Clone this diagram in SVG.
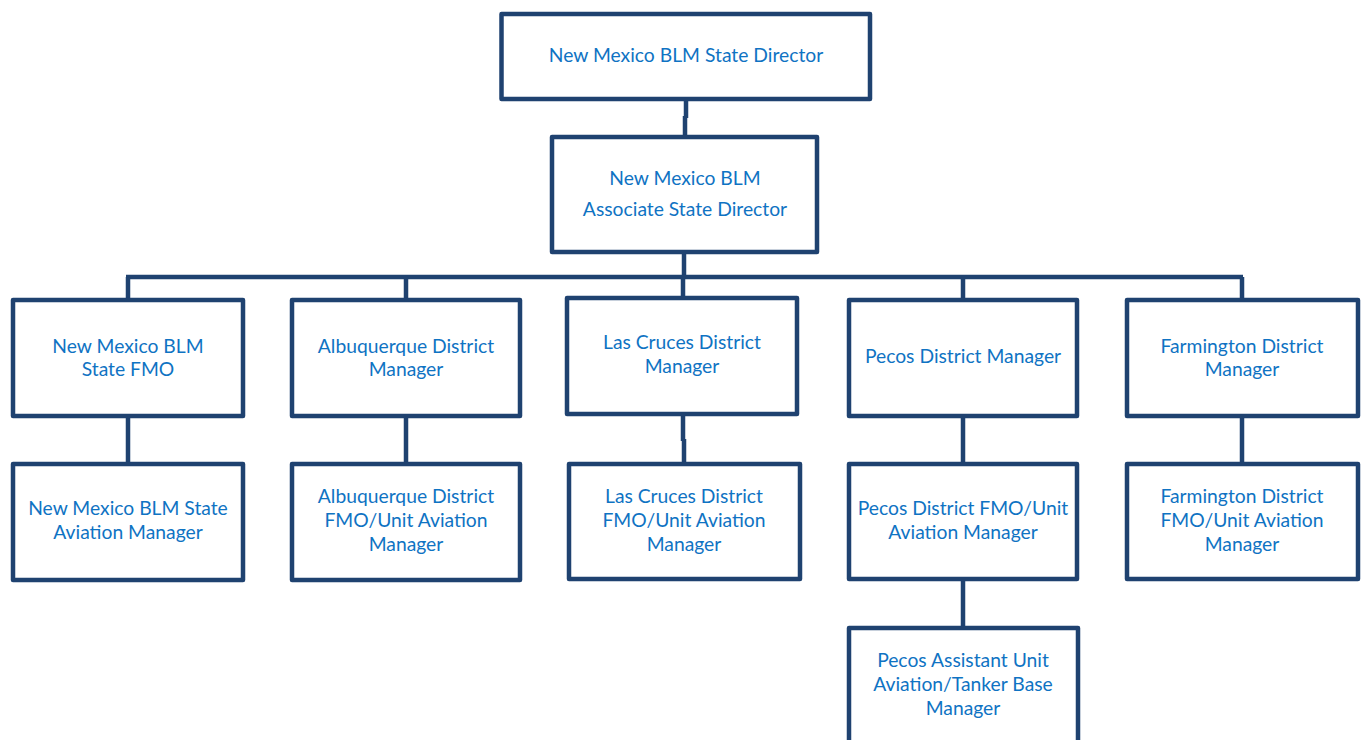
<svg xmlns="http://www.w3.org/2000/svg" width="1364" height="740" viewBox="0 0 1364 740">
<style>
.box{fill:#fff;stroke:#1F4270;stroke-width:4.5;stroke-linejoin:round}
.ln{fill:none;stroke:#1F4270;stroke-width:4.5}
text{font-family:Lato,"Open Sans","Liberation Sans",sans-serif;font-size:19.3px;fill:#0F73C3;text-anchor:middle}
</style>
<rect width="1364" height="740" fill="#fff"/>
<g id="connectors">
<path class="ln" d="M686 101 V118 M685 116 V137"/>
<path class="ln" d="M684 254 V277"/>
<path class="ln" d="M126 277 H1243"/>
<path class="ln" d="M128 277 V300 M406 277 V300 M683 277 V298 M963 277 V300 M1242 277 V300"/>
<path class="ln" d="M128 416 V464 M406 416 V464 M963 416 V464 M1242 416 V464 M963 580 V628"/>
<path class="ln" d="M683 416 V441 M684 439 V464"/>
</g>
<g id="n-state-director"><rect class="box" x="501.5" y="14" width="368.5" height="85"/><text x="686" y="62">New Mexico BLM State Director</text></g>
<g id="n-assoc"><rect class="box" x="552" y="137" width="265" height="115"/><text x="685" y="185">New Mexico BLM</text><text x="685" y="216">Associate State Director</text></g>
<g id="n-fmo"><rect class="box" x="13" y="300" width="230" height="116"/><text x="128" y="353">New Mexico BLM</text><text x="128" y="376">State FMO</text></g>
<g id="n-abq"><rect class="box" x="292" y="300" width="228" height="116"/><text x="406" y="353">Albuquerque District</text><text x="406" y="376">Manager</text></g>
<g id="n-lc"><rect class="box" x="567" y="298" width="230" height="116"/><text x="682" y="349">Las Cruces District</text><text x="682" y="373">Manager</text></g>
<g id="n-pecos"><rect class="box" x="849" y="300" width="228" height="116"/><text x="963" y="363">Pecos District Manager</text></g>
<g id="n-farm"><rect class="box" x="1127" y="300" width="231" height="116"/><text x="1242" y="353">Farmington District</text><text x="1242" y="376">Manager</text></g>
<g id="n-fmo-av"><rect class="box" x="13" y="464" width="230" height="116"/><text x="128" y="515">New Mexico BLM State</text><text x="128" y="539">Aviation Manager</text></g>
<g id="n-abq-av"><rect class="box" x="292" y="464" width="228" height="116"/><text x="406" y="503">Albuquerque District</text><text x="406" y="527">FMO/Unit Aviation</text><text x="406" y="551">Manager</text></g>
<g id="n-lc-av"><rect class="box" x="569" y="464" width="231" height="115"/><text x="684" y="503">Las Cruces District</text><text x="684" y="527">FMO/Unit Aviation</text><text x="684" y="551">Manager</text></g>
<g id="n-pecos-av"><rect class="box" x="849" y="464" width="228" height="115"/><text x="963" y="515">Pecos District FMO/Unit</text><text x="963" y="539">Aviation Manager</text></g>
<g id="n-farm-av"><rect class="box" x="1127" y="464" width="231" height="115"/><text x="1242" y="503">Farmington District</text><text x="1242" y="527">FMO/Unit Aviation</text><text x="1242" y="551">Manager</text></g>
<g id="n-pecos-asst"><rect class="box" x="849" y="628" width="229" height="130"/><text x="963" y="667">Pecos Assistant Unit</text><text x="963" y="691">Aviation/Tanker Base</text><text x="963" y="715">Manager</text></g>
</svg>
